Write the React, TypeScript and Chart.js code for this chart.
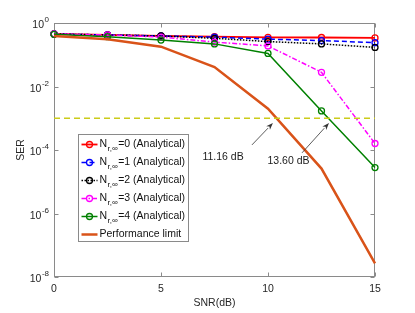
import React, { useEffect, useRef } from 'react';
import { Chart, registerables } from 'chart.js';

Chart.register(...registerables);

// ---------- data ----------
const snr = [0, 2.5, 5, 7.5, 10, 12.5, 15];
const serNr0 = [0.45, 0.42, 0.39, 0.37, 0.355, 0.35, 0.34];
const serNr1 = [0.45, 0.42, 0.39, 0.36, 0.31, 0.28, 0.24];
const serNr2 = [0.45, 0.42, 0.39, 0.33, 0.26, 0.22, 0.17];
const serNr3 = [0.45, 0.42, 0.36, 0.25, 0.19, 0.028, 1.6e-4];
const serNr4 = [0.44, 0.37, 0.29, 0.22, 0.11, 1.7e-3, 2.8e-5];
const serLimit = [0.39, 0.31, 0.18, 0.041, 2.0e-3, 2.6e-5, 2.7e-8];
const thresholdX = [0, 15];
const thresholdY = [1e-3, 1e-3];

const seriesLabels = [
  'N_{r,∞}=0 (Analytical)',
  'N_{r,∞}=1 (Analytical)',
  'N_{r,∞}=2 (Analytical)',
  'N_{r,∞}=3 (Analytical)',
  'N_{r,∞}=4 (Analytical)',
  'Performance limit',
];

const xTickValues = [0, 5, 10, 15];
const yTickValues = [1e-8, 1e-6, 1e-4, 1e-2, 1];

const annotationTexts = ['11.16 dB', '13.60 dB'];
const annotationTextX = [7.9, 10.96];
const annotationTextY = [Math.pow(10, -4.21), Math.pow(10, -4.34)];
const arrowFromX = [9.25, 11.59];
const arrowFromY = [Math.pow(10, -3.84), Math.pow(10, -4.09)];
const arrowToX = [10.23, 12.85];
const arrowToY = [Math.pow(10, -3.15), Math.pow(10, -3.15)];

const FONT = "'Liberation Sans', Arial, Helvetica, sans-serif";
const TEXT = '#262626';
const AXIS = '#8a8a8a';

const pts = (ys: number[], xs: number[] = snr) => xs.map((x, i) => ({ x, y: ys[i] }));

// ---------- plugins ----------
const framePlugin = {
  id: 'matlabFrame',
  beforeDatasetsDraw(chart: any) {
    const { ctx, chartArea: a, scales } = chart;
    const L = Math.round(a.left) + 0.5;
    const R = Math.round(a.right) - 0.5;
    const T = Math.round(a.top) + 0.5;
    const B = Math.round(a.bottom) - 0.5;
    ctx.save();
    ctx.strokeStyle = AXIS;
    ctx.lineWidth = 1;
    ctx.strokeRect(L, T, R - L, B - T);
    const tl = 4;
    ctx.beginPath();
    xTickValues.forEach((v) => {
      const x = Math.round(scales.x.getPixelForValue(v)) + 0.5;
      ctx.moveTo(x, B); ctx.lineTo(x, B - tl);
      ctx.moveTo(x, T); ctx.lineTo(x, T + tl);
    });
    yTickValues.forEach((v) => {
      const y = Math.round(scales.y.getPixelForValue(v)) + 0.5;
      ctx.moveTo(L, y); ctx.lineTo(L + tl, y);
      ctx.moveTo(R, y); ctx.lineTo(R - tl, y);
    });
    ctx.stroke();
    ctx.restore();
  },
  afterDraw(chart: any) {
    const { ctx, chartArea: a, scales } = chart;
    ctx.save();
    ctx.fillStyle = TEXT;
    ctx.textBaseline = 'middle';
    yTickValues.forEach((v) => {
      const y = scales.y.getPixelForValue(v);
      const exp = String(Math.round(Math.log10(v))).replace('-', '-');
      ctx.font = `8px ${FONT}`;
      const ew = ctx.measureText(exp).width;
      const right = a.left - 5;
      ctx.textAlign = 'left';
      ctx.fillText(exp, right - ew, y - 3);
      ctx.font = `10.5px ${FONT}`;
      ctx.textAlign = 'right';
      ctx.fillText('10', right - ew - 0.5, y + 2.5);
    });
    ctx.restore();
  },
};

const annotationPlugin = {
  id: 'arrowNotes',
  afterDatasetsDraw(chart: any) {
    const { ctx, scales } = chart;
    ctx.save();
    ctx.strokeStyle = '#333';
    ctx.fillStyle = '#333';
    ctx.lineWidth = 0.8;
    arrowFromX.forEach((fx, i) => {
      const x1 = scales.x.getPixelForValue(fx);
      const y1 = scales.y.getPixelForValue(arrowFromY[i]);
      const x2 = scales.x.getPixelForValue(arrowToX[i]);
      const y2 = scales.y.getPixelForValue(arrowToY[i]);
      const ang = Math.atan2(y2 - y1, x2 - x1);
      const hl = 7, hw = 2.6;
      const bx = x2 - hl * Math.cos(ang), by = y2 - hl * Math.sin(ang);
      ctx.beginPath();
      ctx.moveTo(x1, y1);
      ctx.lineTo(bx, by);
      ctx.stroke();
      ctx.beginPath();
      ctx.moveTo(x2, y2);
      ctx.lineTo(bx + hw * Math.sin(ang), by - hw * Math.cos(ang));
      ctx.lineTo(bx + 2 * Math.cos(ang), by + 2 * Math.sin(ang));
      ctx.lineTo(bx - hw * Math.sin(ang), by + hw * Math.cos(ang));
      ctx.closePath();
      ctx.fill();
    });
    ctx.fillStyle = '#1a1a1a';
    ctx.font = `10.5px ${FONT}`;
    ctx.textAlign = 'center';
    ctx.textBaseline = 'middle';
    annotationTexts.forEach((t, i) => {
      ctx.fillText(t, scales.x.getPixelForValue(annotationTextX[i]), scales.y.getPixelForValue(annotationTextY[i]));
    });
    ctx.restore();
  },
};

const legendPlugin = {
  id: 'boxLegend',
  afterDraw(chart: any) {
    const { ctx, chartArea: a } = chart;
    const items = chart.data.datasets.filter((d: any) => d.label);
    const left = Math.round(a.left + 24) + 0.5;
    const top = Math.round(a.top + 111) + 0.5;
    const w = 110, h = 107;
    ctx.save();
    ctx.fillStyle = '#ffffff';
    ctx.fillRect(left, top, w, h);
    ctx.strokeStyle = AXIS;
    ctx.lineWidth = 1;
    ctx.strokeRect(left, top, w, h);
    items.forEach((d: any, i: number) => {
      const y = top + 10 + i * 18;
      ctx.save();
      ctx.strokeStyle = d.borderColor;
      ctx.lineWidth = d.borderWidth;
      ctx.setLineDash(d.borderDash || []);
      ctx.beginPath();
      ctx.moveTo(left + 3, y);
      ctx.lineTo(left + 19, y);
      ctx.stroke();
      ctx.setLineDash([]);
      if (d.pointRadius > 0) {
        ctx.lineWidth = d.pointBorderWidth;
        ctx.beginPath();
        ctx.arc(left + 11, y, d.pointRadius, 0, Math.PI * 2);
        ctx.stroke();
      }
      ctx.restore();
      // label with optional subscript
      const m = /^(.*?)_\{(.*?)\}(.*)$/.exec(d.label);
      let x = left + 21;
      ctx.fillStyle = '#111';
      ctx.textAlign = 'left';
      ctx.textBaseline = 'middle';
      if (m) {
        ctx.font = `10.5px ${FONT}`;
        ctx.fillText(m[1], x, y);
        x += ctx.measureText(m[1]).width + 0.5;
        ctx.font = `8px ${FONT}`;
        ctx.fillText(m[2], x, y + 4);
        x += ctx.measureText(m[2]).width + 0.5;
        ctx.font = `10.5px ${FONT}`;
        ctx.fillText(m[3], x, y);
      } else {
        ctx.font = `10.5px ${FONT}`;
        ctx.fillText(d.label, x, y);
      }
    });
    ctx.restore();
  },
};

// ---------- component ----------
export default function App() {
  const ref = useRef<HTMLCanvasElement | null>(null);

  useEffect(() => {
    if (!ref.current) return;
    const marker = (color: string) => ({
      pointRadius: 3,
      pointBorderWidth: 1.3,
      pointBorderColor: color,
      pointBackgroundColor: 'rgba(0,0,0,0)',
      pointStyle: 'circle',
    });
    const chart = new Chart(ref.current, {
      type: 'line',
      data: {
        datasets: [
          {
            label: seriesLabels[0], data: pts(serNr0), borderColor: '#ff0000', borderWidth: 1.8,
            ...marker('#ff0000'), clip: false, order: 6,
          },
          {
            label: seriesLabels[1], data: pts(serNr1), borderColor: '#0000ff', borderWidth: 1.5,
            borderDash: [5, 3], ...marker('#0000ff'), clip: false, order: 5,
          },
          {
            label: seriesLabels[2], data: pts(serNr2), borderColor: '#000000', borderWidth: 1.5,
            borderDash: [1.5, 1.5], ...marker('#000000'), clip: false, order: 4,
          },
          {
            label: seriesLabels[3], data: pts(serNr3), borderColor: '#ff00ff', borderWidth: 1.5,
            borderDash: [5, 2, 1.5, 2], ...marker('#ff00ff'), clip: false, order: 3,
          },
          {
            label: seriesLabels[4], data: pts(serNr4), borderColor: '#008000', borderWidth: 1.5,
            ...marker('#008000'), clip: false, order: 2,
          },
          {
            label: seriesLabels[5], data: pts(serLimit), borderColor: '#d95319', borderWidth: 2.5,
            pointRadius: 0, pointBorderWidth: 0, clip: false, order: 1,
          },
          {
            label: '', data: pts(thresholdY, thresholdX), borderColor: '#cccc1a', borderWidth: 1.6,
            borderDash: [6, 4], pointRadius: 0, clip: false, order: 0,
          },
        ] as any,
      },
      options: {
        responsive: false,
        animation: false,
        events: [],
        layout: { padding: { left: 0, top: 23, right: 40, bottom: 0 } },
        elements: { line: { tension: 0, fill: false } },
        plugins: { legend: { display: false }, tooltip: { enabled: false }, title: { display: false } },
        scales: {
          x: {
            type: 'linear',
            min: 0,
            max: 15,
            grid: { display: false, drawTicks: false },
            border: { display: false },
            afterBuildTicks: (s: any) => { s.ticks = xTickValues.map((v) => ({ value: v })); },
            afterFit: (s: any) => { s.height = 36; },
            ticks: { color: TEXT, font: { family: FONT, size: 10.5 }, padding: 6, maxRotation: 0 },
            title: { display: true, text: 'SNR(dB)', color: TEXT, font: { family: FONT, size: 10.5 }, padding: { top: 0, bottom: 4 } },
          },
          y: {
            type: 'logarithmic',
            min: 1e-8,
            max: 1,
            grid: { display: false, drawTicks: false },
            border: { display: false },
            afterBuildTicks: (s: any) => { s.ticks = yTickValues.map((v) => ({ value: v })); },
            afterFit: (s: any) => { s.width = 54; },
            ticks: { display: false },
            title: { display: true, text: 'SER', color: TEXT, font: { family: FONT, size: 10.5 }, padding: { top: 15, bottom: 0 } },
          },
        },
      } as any,
      plugins: [framePlugin, annotationPlugin, legendPlugin],
    });
    return () => chart.destroy();
  }, []);

  return (
    <div style={{ position: 'absolute', left: 0, top: 0, width: 415, height: 313, background: '#fff' }}>
      <canvas ref={ref} width={415} height={313} style={{ display: 'block' }} />
    </div>
  );
}
